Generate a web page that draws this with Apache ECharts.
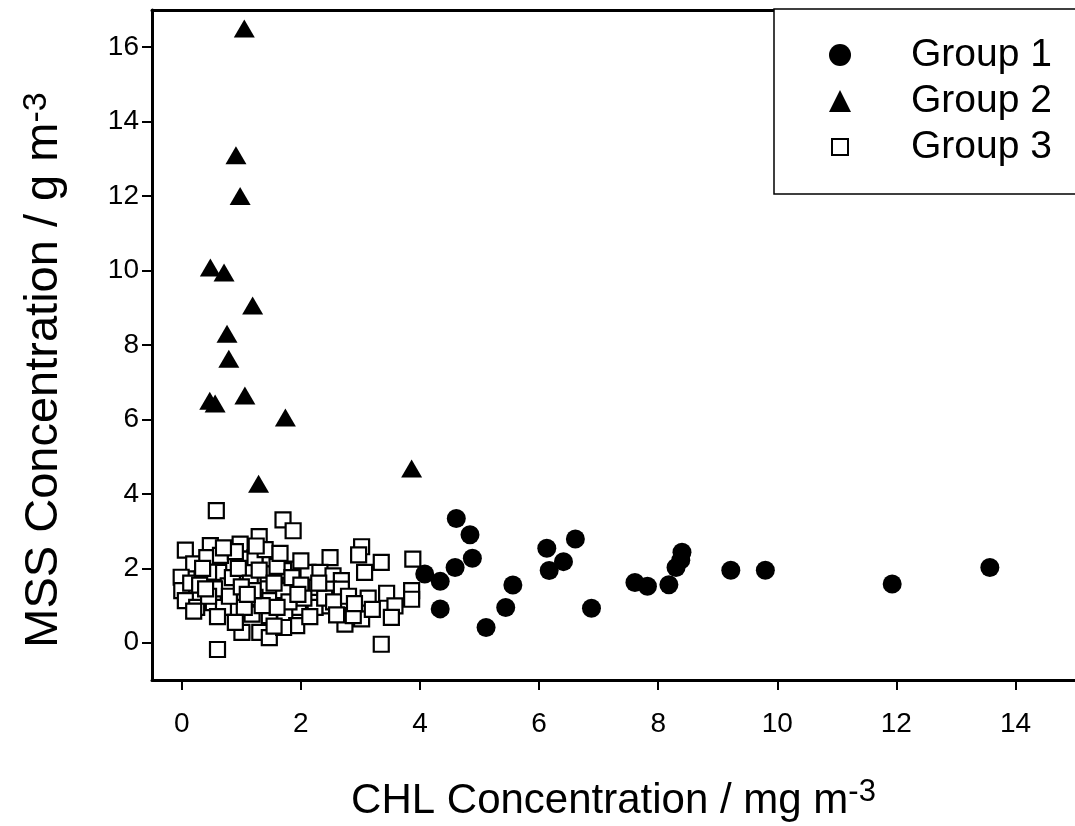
<!DOCTYPE html>
<html>
<head>
<meta charset="utf-8">
<script src="https://cdn.jsdelivr.net/npm/echarts@6/dist/echarts.min.js"></script>
<style>
html,body{margin:0;padding:0;background:#fff;}
#chart{width:1075px;height:826px;}
</style>
</head>
<body>
<div id="chart"></div>
<script>
// ---- data ----
const seriesNames = ['Group 1', 'Group 2', 'Group 3'];
const xTicks = [0, 2, 4, 6, 8, 10, 12, 14];
const yTicks = [0, 2, 4, 6, 8, 10, 12, 14, 16];

const group1 = [
  [4.61,3.34],[4.84,2.90],[4.88,2.27],[4.59,2.02],[4.08,1.85],[4.34,1.65],[4.34,0.91],
  [5.11,0.41],[5.56,1.55],[5.44,0.95],[6.13,2.54],[6.61,2.79],[6.41,2.18],[6.17,1.94],
  [6.88,0.93],[7.61,1.62],[7.82,1.52],[8.18,1.56],[8.40,2.43],[8.38,2.22],[8.30,2.02],
  [9.22,1.95],[9.80,1.95],[11.93,1.58],[13.57,2.02]
];

const group2 = [
  [1.05,16.5],[0.91,13.1],[0.98,12.0],[0.48,10.08],[0.71,9.95],[1.19,9.06],[0.76,8.3],
  [0.79,7.63],[0.47,6.5],[0.56,6.43],[1.06,6.64],[1.74,6.05],[3.86,4.68],[1.29,4.27]
];

const group3 = [
  [0.58,3.55],[1.70,3.30],[1.87,3.01],[0.60,-0.18],[3.35,-0.04],
  [3.02,2.58],[2.97,2.36],[3.35,2.16],[3.88,2.25],[2.49,2.29],[3.07,1.89],
  [1.90,1.98],[2.12,1.89],[2.32,1.89],[2.54,1.80],[2.68,1.67],[1.82,1.53],[2.26,1.49],
  [2.46,1.44],[2.68,1.44],[3.13,1.20],[3.44,1.33],[3.86,1.40],[3.86,1.17],[3.58,0.99],
  [1.96,0.95],[2.24,0.95],[2.49,0.99],[1.73,0.73],[3.52,0.68],[3.02,0.64],[2.74,0.50],
  [2.88,0.73],[1.93,0.46],
  [0.06,2.49],[0.48,2.61],[1.30,2.85],[0.98,2.65],[0.20,2.12],[0.76,2.12],[1.06,2.25],
  [1.48,2.25],[-0.01,1.76],[0.34,1.71],[0.62,1.89],[0.78,1.53],[1.10,1.89],[1.45,1.85],
  [1.71,1.94],[0.00,1.40],[0.25,1.31],[0.53,1.08],[0.98,1.17],[1.23,1.22],[1.48,1.13],
  [0.06,1.13],[0.25,0.95],[0.91,0.86],[1.18,0.77],[1.47,0.73],[0.70,0.95],[1.01,0.28],
  [1.31,0.28],[1.47,0.14],[1.71,0.41],[1.71,1.40],[0.42,2.29],[1.23,2.29],
  [0.15,1.60],[0.45,1.90],[0.55,1.45],[0.85,1.75],[0.95,2.00],[1.15,1.60],[1.30,1.95],
  [1.55,1.60],[1.60,2.05],[1.85,1.75],[2.00,1.55],[2.05,1.20],[1.80,1.10],[1.60,0.95],
  [1.35,1.00],[1.05,0.95],[0.80,1.25],[0.45,1.25],[0.30,1.55],[0.65,2.35],[1.40,2.50],
  [1.65,2.40],[0.90,2.45],[0.35,2.00],[1.20,1.40],[0.60,0.70],[0.90,0.55],[2.15,0.70],
  [2.40,1.20],[1.95,1.30],[1.00,1.50],[0.20,0.85],[1.55,0.45],[2.00,2.20],[2.30,1.60],
  [1.25,2.60],[0.70,2.55],[0.40,1.45],[1.10,1.30],[2.55,1.10],[2.80,1.25],
  [2.90,1.05],[3.20,0.90],[2.60,0.75]
];

// ---- chart ----
const FONT = '"Liberation Sans", Arial, sans-serif';
const chart = echarts.init(document.getElementById('chart'));

const axisLineStyle = { color: '#000', width: 3 };

chart.setOption({
  backgroundColor: '#fff',
  animation: false,
  textStyle: { fontFamily: FONT, color: '#000' },
  grid: { left: 152, right: 0, top: 10, bottom: 146, containLabel: false, outerBoundsMode: 'none' },
  legend: {
    orient: 'vertical',
    left: 774,
    top: 9,
    padding: [25, 40, 26, 54],
    itemGap: 4,
    itemWidth: 22,
    itemHeight: 22,
    borderColor: '#000',
    borderWidth: 1.5,
    backgroundColor: '#fff',
    textStyle: { fontFamily: FONT, fontSize: 39, color: '#000', lineHeight: 42, padding: [0, 0, 0, 55] },
    data: [
      { name: seriesNames[0], icon: 'circle' },
      { name: seriesNames[1], icon: 'triangle' },
      { name: seriesNames[2], icon: 'path://M0 0 M22 22 M3 3 L19 3 L19 19 L3 19 Z' }
    ]
  },
  xAxis: [{
    type: 'value',
    min: -0.5,
    max: 15,
    position: 'bottom',
    splitLine: { show: false },
    axisLine: { show: true, onZero: false, lineStyle: axisLineStyle },
    axisTick: { show: true, inside: false, length: 10, lineStyle: { color: '#000', width: 2 }, customValues: xTicks },
    axisLabel: { fontFamily: FONT, fontSize: 28, color: '#000', margin: 30, customValues: xTicks },
    name: '{a|CHL Concentration / mg m}{s|-3}',
    nameLocation: 'middle',
    nameGap: 97,
    nameTextStyle: {
      rich: {
        a: { fontFamily: FONT, fontSize: 42, lineHeight: 48, color: '#000' },
        s: { fontFamily: FONT, fontSize: 31, lineHeight: 24, verticalAlign: 'top', color: '#000' }
      }
    }
  }, {
    type: 'value',
    min: -0.5,
    max: 15,
    position: 'top',
    splitLine: { show: false },
    axisLine: { show: true, onZero: false, lineStyle: axisLineStyle },
    axisTick: { show: false },
    axisLabel: { show: false }
  }],
  yAxis: {
    type: 'value',
    min: -1,
    max: 17,
    splitLine: { show: false },
    axisLine: { show: true, onZero: false, lineStyle: axisLineStyle },
    axisTick: { show: true, inside: false, length: 10, lineStyle: { color: '#000', width: 2 }, customValues: yTicks },
    axisLabel: { fontFamily: FONT, fontSize: 28, color: '#000', margin: 13, customValues: yTicks },
    name: '{a|MSS Concentration / g m}{s|-3}',
    nameLocation: 'middle',
    nameGap: 84,
    nameTextStyle: {
      padding: [0, 50, 0, 0],
      rich: {
        a: { fontFamily: FONT, fontSize: 47, lineHeight: 48, color: '#000' },
        s: { fontFamily: FONT, fontSize: 34, lineHeight: 24, verticalAlign: 'top', color: '#000' }
      }
    }
  },
  series: [
    {
      name: seriesNames[0],
      type: 'scatter',
      symbol: 'circle',
      symbolSize: 19,
      itemStyle: { color: '#000', opacity: 1 },
      data: group1,
      z: 2
    },
    {
      name: seriesNames[1],
      type: 'scatter',
      symbol: 'triangle',
      symbolSize: [21, 18],
      itemStyle: { color: '#000', opacity: 1 },
      data: group2,
      z: 2
    },
    {
      name: seriesNames[2],
      type: 'scatter',
      symbol: 'rect',
      symbolSize: 15,
      itemStyle: { color: '#fff', borderColor: '#000', borderWidth: 2.2, opacity: 1 },
      data: group3,
      z: 3
    }
  ]
});
</script>
</body>
</html>
